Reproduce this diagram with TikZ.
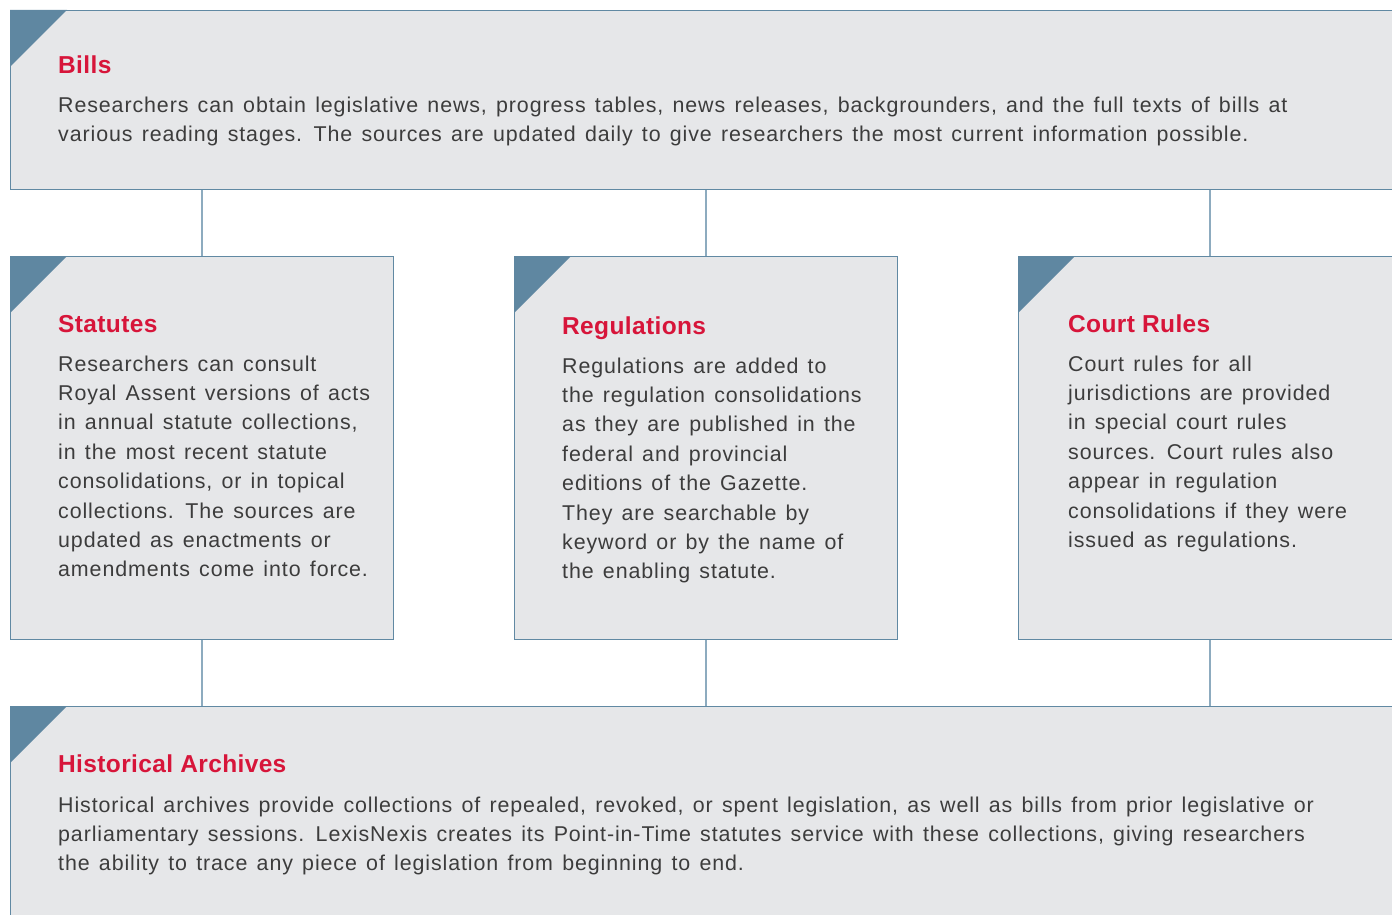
\documentclass[tikz,border=0pt]{standalone}
\usepackage{fontspec}
\setmainfont{Liberation Sans}
\newfontfamily\bodyfont[LetterSpace=4.2, WordSpace=1.35]{Liberation Sans}
\newfontfamily\titlefont[LetterSpace=1.5]{Liberation Sans}
\definecolor{boxfill}{HTML}{E6E7E9}
\definecolor{boxline}{HTML}{6189A3}
\definecolor{connline}{HTML}{8DABBF}
\definecolor{tricol}{HTML}{5F87A1}
\definecolor{titlered}{HTML}{D7153A}
\definecolor{txt}{HTML}{3C3C3C}
\tikzset{
  box/.style={draw=boxline, fill=boxfill, line width=1.3pt, rectangle, inner sep=0pt, anchor=north west},
  conn/.style={draw=connline, line width=1.8pt},
  tri/.style={fill=tricol},
  ttl/.style={anchor=base west, inner sep=0pt, text=titlered, font=\titlefont\fontsize{24.5}{28}\selectfont\bfseries},
  body/.style={anchor=base west, inner sep=0pt, align=left, text=txt, font=\bodyfont\fontsize{21.4}{29.4}\selectfont},
}
\begin{document}
\begin{tikzpicture}[x=1pt,y=-1pt]
\useasboundingbox (0,0) rectangle (1392,915);
\clip (0,0) rectangle (1392,915);
% boxes
\node[box, minimum width=1400pt, minimum height=179pt] (bills) at (10,10) {};
\node[box, minimum width=383pt, minimum height=383pt] (stat) at (10,256) {};
\node[box, minimum width=383pt, minimum height=383pt] (regs) at (514,256) {};
\node[box, minimum width=383pt, minimum height=383pt] (court) at (1018,256) {};
\node[box, minimum width=1400pt, minimum height=230pt] (hist) at (10,706) {};
% corner triangles
\foreach \b in {bills,stat,regs,court,hist}{
  \fill[tri] (\b.north west) -- ++(57,0) -- ++(-57,57) -- cycle;
}
% connectors
\draw[conn] (stat.north) -- (stat.north |- bills.south);
\draw[conn] (regs.north) -- (regs.north |- bills.south);
\draw[conn] (court.north) -- (court.north |- bills.south);
\draw[conn] (stat.south) -- (stat.south |- hist.north);
\draw[conn] (regs.south) -- (regs.south |- hist.north);
\draw[conn] (court.south) -- (court.south |- hist.north);
% texts (body anchors sit on the last line's baseline)
\node[ttl] (billsT) at (58,74) {Bills};
\node[body] (billsB) at (58,141.4) {Researchers can obtain legislative news, progress tables, news releases, backgrounders, and the full texts of bills at\\various reading stages. The sources are updated daily to give researchers the most current information possible.};
\node[ttl] (statT) at (58,332) {Statutes};
\node[body] (statB) at (58,576.8) {Researchers can consult\\Royal Assent versions of acts\\in annual statute collections,\\in the most recent statute\\consolidations, or in topical\\collections. The sources are\\updated as enactments or\\amendments come into force.};
\node[ttl] (regsT) at (562,334) {Regulations};
\node[body] (regsB) at (562,578.8) {Regulations are added to\\the regulation consolidations\\as they are published in the\\federal and provincial\\editions of the Gazette.\\They are searchable by\\keyword or by the name of\\the enabling statute.};
\node[ttl] (courtT) at (1068,332) {Court Rules};
\node[body] (courtB) at (1068,547.4) {Court rules for all\\jurisdictions are provided\\in special court rules\\sources. Court rules also\\appear in regulation\\consolidations if they were\\issued as regulations.};
\node[ttl] (histT) at (58,772) {Historical Archives};
\node[body] (histB) at (58,870.8) {Historical archives provide collections of repealed, revoked, or spent legislation, as well as bills from prior legislative or\\parliamentary sessions. LexisNexis creates its Point-in-Time statutes service with these collections, giving researchers\\the ability to trace any piece of legislation from beginning to end.};
\end{tikzpicture}
\end{document}
